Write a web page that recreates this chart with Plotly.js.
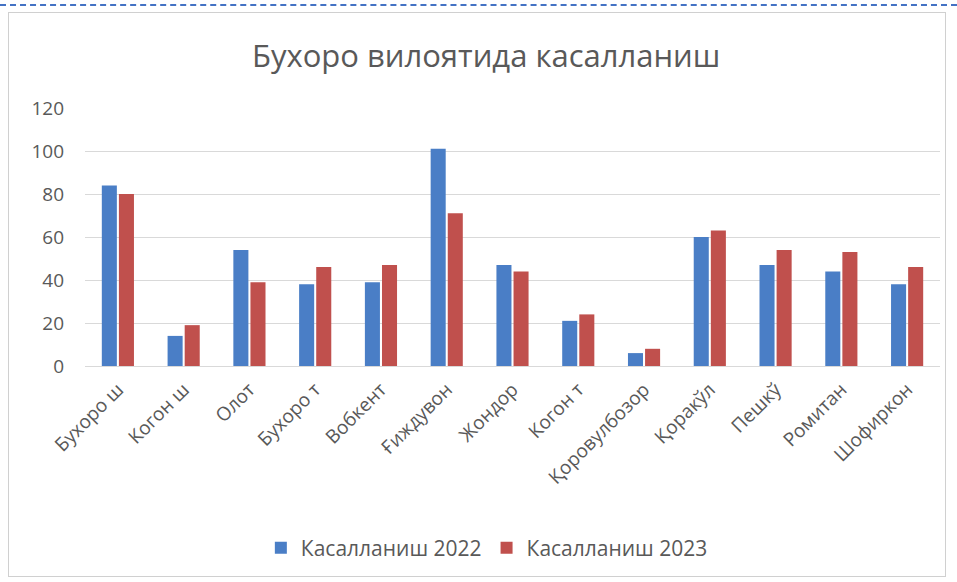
<!DOCTYPE html>
<html>
<head>
<meta charset="utf-8">
<script src="https://cdn.plot.ly/plotly-3.0.1.min.js"></script>
<style>
  html, body { margin: 0; padding: 0; background: #fff; }
  #wrap { position: relative; width: 957px; height: 582px; overflow: hidden; }
  #dash { position: absolute; left: 0; top: 4px; width: 957px; border-top: 2px dashed #4472C4; }
  #frame { position: absolute; left: 8px; top: 12px; width: 938px; height: 565px; border: 1px solid #d0d0d0; box-sizing: border-box; }
  #chart { position: absolute; left: 0; top: 0; width: 957px; height: 582px; }
</style>
</head>
<body>
<div id="wrap">
  <div id="dash"></div>
  <div id="frame"></div>
  <div id="chart"></div>
</div>
<script>
const categories = ["Бухоро ш", "Когон ш", "Олот", "Бухоро т", "Вобкент", "Ғиждувон", "Жондор", "Когон т", "Қоровулбозор", "Қоракўл", "Пешкў", "Ромитан", "Шофиркон"];
const values2022 = [84, 14, 54, 38, 39, 101, 47, 21, 6, 60, 47, 44, 38];
const values2023 = [80, 19, 39, 46, 47, 71, 44, 24, 8, 63, 54, 53, 46];
const seriesNames = ["Касалланиш 2022", "Касалланиш 2023"];
const yTicks = [0, 20, 40, 60, 80, 100, 120];
const chartTitle = "Бухоро вилоятида касалланиш";

const fontFam = "'Open Sans', 'Liberation Sans', sans-serif";
const traces = [
  { type: "bar", name: seriesNames[0], x: categories, y: values2022, marker: { color: "#4A7EC6" } },
  { type: "bar", name: seriesNames[1], x: categories, y: values2023, marker: { color: "#C0504D" } }
];
const layout = {
  width: 957, height: 582,
  paper_bgcolor: "rgba(0,0,0,0)", plot_bgcolor: "rgba(0,0,0,0)",
  margin: { l: 85, r: 17, t: 108, b: 216 },
  barmode: "group", bargap: 0.48, bargroupgap: 0.12,
  title: { text: chartTitle, x: 0.508, xref: "container", y: 1 - 56/582, yref: "container", yanchor: "middle",
           font: { family: fontFam, size: 31, color: "#595959" } },
  font: { family: fontFam, color: "#595959" },
  xaxis: { tickangle: -45, tickfont: { size: 19, color: "#595959" }, showgrid: false,
           showline: true, linecolor: "#d9d9d9", linewidth: 1, ticks: "", ticklabelstandoff: 4 },
  yaxis: { range: [0, 120], tickvals: yTicks, ticktext: yTicks.map(String), tickfont: { size: 19, color: "#595959" },
           showgrid: true, gridcolor: "#d9d9d9", gridwidth: 1, zeroline: false, showline: false, ticks: "",
           ticklabelstandoff: 20 },
  showlegend: true,
  legend: { orientation: "h", x: 0.47, xanchor: "center", y: (366-548)/258, yanchor: "middle",
            font: { size: 21, color: "#595959" }, itemwidth: 30, traceorder: "normal" }
};
Plotly.newPlot("chart", traces, layout, { displayModeBar: false, staticPlot: true });
</script>
</body>
</html>
